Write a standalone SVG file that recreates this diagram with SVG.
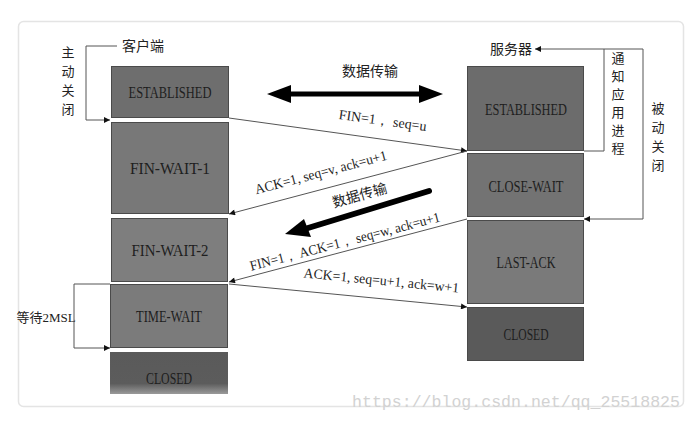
<svg xmlns="http://www.w3.org/2000/svg" width="692" height="422" viewBox="0 0 692 422">
<defs>
<style>
.box{stroke:#4a4a4a;stroke-width:1}
.st{font-family:"Liberation Serif","DejaVu Serif",serif;font-size:16px;fill:#1e1e1e;text-anchor:middle}
.lab{font-family:"Liberation Serif","DejaVu Serif",serif;font-size:14px;fill:#1e1e1e;text-anchor:middle}
.cjk{font-family:"Noto Sans CJK SC",sans-serif;font-size:14px;fill:#222;text-anchor:middle}
.v{font-family:"Noto Sans CJK SC",sans-serif;font-size:13px;fill:#222;text-anchor:middle}
.ln{stroke:#555;stroke-width:1;fill:none}
.br{stroke:#555;stroke-width:1;fill:none}
</style>
<marker id="ah" viewBox="0 0 10 10" refX="10" refY="5" markerWidth="8" markerHeight="6" markerUnits="userSpaceOnUse" orient="auto">
<path d="M0,0 L10,5 L0,10 Z" fill="#111"/>
</marker>
<linearGradient id="fade" x1="0" y1="0" x2="0" y2="1">
<stop offset="0" stop-color="#5a5a5a"/>
<stop offset="0.75" stop-color="#5c5c5c"/>
<stop offset="1" stop-color="#9a9a9a"/>
</linearGradient>
</defs>
<rect width="692" height="422" fill="#fff"/>
<rect x="18.5" y="21.5" width="665" height="385" rx="5" fill="#fff" stroke="#e4e4e4" stroke-width="1.5"/>

<g id="client-established"><rect class="box" x="111.5" y="66.5" width="117" height="51" fill="#6e6e6e"/><text class="st" x="170" y="98" textLength="83" lengthAdjust="spacingAndGlyphs">ESTABLISHED</text></g>
<g id="client-fin-wait-1"><rect class="box" x="111.5" y="122.5" width="117" height="91" fill="#787878"/><text class="st" x="170" y="174" textLength="80" lengthAdjust="spacingAndGlyphs">FIN-WAIT-1</text></g>
<g id="client-fin-wait-2"><rect class="box" x="111.5" y="218.5" width="116" height="63" fill="#7e7e7e"/><text class="st" x="170" y="256" textLength="77" lengthAdjust="spacingAndGlyphs">FIN-WAIT-2</text></g>
<g id="client-time-wait"><rect class="box" x="110.5" y="284.5" width="117" height="63" fill="#7b7b7b"/><text class="st" x="169" y="322" textLength="66" lengthAdjust="spacingAndGlyphs">TIME-WAIT</text></g>
<g id="client-closed"><rect x="110" y="352" width="118" height="42" fill="url(#fade)"/><text class="st" x="169" y="384" textLength="46" lengthAdjust="spacingAndGlyphs">CLOSED</text></g>

<g id="server-established"><rect class="box" x="467.5" y="66.5" width="116" height="84" fill="#6c6c6c"/><text class="st" x="526" y="115" textLength="82" lengthAdjust="spacingAndGlyphs">ESTABLISHED</text></g>
<g id="server-close-wait"><rect class="box" x="467.5" y="153.5" width="116" height="63" fill="#737373"/><text class="st" x="526" y="192" textLength="75" lengthAdjust="spacingAndGlyphs">CLOSE-WAIT</text></g>
<g id="server-last-ack"><rect class="box" x="467.5" y="220.5" width="116" height="83" fill="#7a7a7a"/><text class="st" x="526" y="268" textLength="59" lengthAdjust="spacingAndGlyphs">LAST-ACK</text></g>
<g id="server-closed"><rect class="box" x="467.5" y="307.5" width="116" height="53" fill="#5a5a5a"/><text class="st" x="526" y="340" textLength="45" lengthAdjust="spacingAndGlyphs">CLOSED</text></g>

<g id="labels">
<text class="cjk" x="143" y="51">客户端</text>
<text class="cjk" x="511" y="54">服务器</text>
<text class="v" x="68" y="57">主</text>
<text class="v" x="68" y="76">动</text>
<text class="v" x="68" y="95">关</text>
<text class="v" x="68" y="114">闭</text>
<text class="v" x="618" y="63">通</text>
<text class="v" x="618" y="81">知</text>
<text class="v" x="618" y="99">应</text>
<text class="v" x="618" y="117">用</text>
<text class="v" x="618" y="135">进</text>
<text class="v" x="618" y="153">程</text>
<text class="v" x="658" y="113">被</text>
<text class="v" x="658" y="132">动</text>
<text class="v" x="658" y="151">关</text>
<text class="v" x="658" y="170">闭</text>
<text class="cjk" x="370" y="76">数据传输</text>
<text class="cjk" x="46" y="322" style="font-size:13px">等待<tspan style="font-family:'Liberation Serif',serif">2MSL</tspan></text>
<text class="cjk" transform="translate(361,200) rotate(-16)">数据传输</text>
<text class="lab" transform="translate(382,125) rotate(7.9)">FIN=1， seq=u</text>
<text class="lab" transform="translate(322,177) rotate(-14.8)" textLength="136" lengthAdjust="spacingAndGlyphs">ACK=1, seq=v, ack=u+1</text>
<text class="lab" transform="translate(346,246) rotate(-14.6)" textLength="196" lengthAdjust="spacingAndGlyphs">FIN=1， ACK=1， seq=w, ack=u+1</text>
<text class="lab" transform="translate(381,285) rotate(5.6)" textLength="156" lengthAdjust="spacingAndGlyphs">ACK=1, seq=u+1, ack=w+1</text>
</g>

<g id="connectors">
<line class="ln" x1="229" y1="118" x2="467" y2="151" marker-end="url(#ah)"/>
<line class="ln" x1="467" y1="151" x2="229" y2="214" marker-end="url(#ah)"/>
<line class="ln" x1="467" y1="219" x2="229" y2="282" marker-end="url(#ah)"/>
<line class="ln" x1="229" y1="284" x2="467" y2="307" marker-end="url(#ah)"/>
<polyline class="br" points="117,46 86,46 86,120 110,120" marker-end="url(#ah)"/>
<polyline class="br" points="110,284 74,284 74,348 110,348" marker-end="url(#ah)"/>
<polyline class="br" points="584,151 604,151 604,49 535,49" marker-end="url(#ah)"/>
<polyline class="br" points="604,49 643,49 643,219 584,219" marker-end="url(#ah)"/>
<path d="M267,94 L291,85 L291,91.5 L419,91.5 L419,85 L443,94 L419,103 L419,96.5 L291,96.5 L291,103 Z" fill="#000"/>
<path d="M429,191 L308,228" stroke="#000" stroke-width="6" stroke-linecap="round" fill="none"/>
<path d="M285,234 L304,219 L311,237 Z" fill="#000"/>
</g>

<text x="516" y="407" style="font-family:'Liberation Mono',monospace;font-size:16.5px;fill:#d2d2d2;text-anchor:middle" textLength="328" lengthAdjust="spacingAndGlyphs">https://blog.csdn.net/qq_25518825</text>
</svg>
